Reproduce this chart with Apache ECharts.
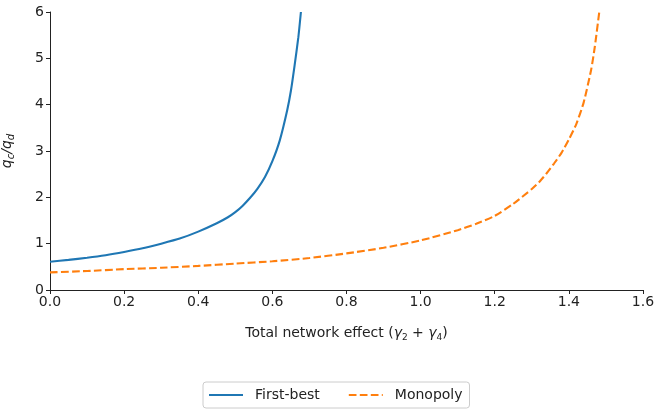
<!DOCTYPE html>
<html>
<head>
<meta charset="utf-8">
<script src="https://cdn.jsdelivr.net/npm/echarts@6/dist/echarts.min.js"></script>
<style>
html,body{margin:0;padding:0;background:#fff;}
#c{width:654px;height:409px;}
</style>
</head>
<body>
<div id="c"></div>
<script>
// Data
var firstBestX = [0, 0.05, 0.1, 0.15, 0.2, 0.25, 0.3, 0.35, 0.4, 0.45, 0.48, 0.5, 0.52, 0.54, 0.56, 0.58, 0.6, 0.62, 0.64, 0.65, 0.66, 0.67, 0.677];
var firstBestY = [0.61, 0.65, 0.695, 0.75, 0.82, 0.90, 1.00, 1.11, 1.26, 1.44, 1.57, 1.68, 1.82, 1.99, 2.19, 2.44, 2.78, 3.23, 3.88, 4.30, 4.85, 5.45, 6.0];
var monopolyX = [0, 0.1, 0.2, 0.3, 0.4, 0.5, 0.6, 0.7, 0.8, 0.9, 1.0, 1.1, 1.15, 1.2, 1.25, 1.3, 1.32, 1.34, 1.36, 1.38, 1.4, 1.42, 1.44, 1.46, 1.47, 1.482];
var monopolyY = [0.38, 0.41, 0.45, 0.48, 0.52, 0.57, 0.62, 0.69, 0.79, 0.91, 1.07, 1.29, 1.43, 1.60, 1.86, 2.18, 2.33, 2.52, 2.73, 2.96, 3.25, 3.58, 4.05, 4.75, 5.25, 6.0];
var xTicks = [0, 0.2, 0.4, 0.6, 0.8, 1.0, 1.2, 1.4, 1.6];
var yTicks = [0, 1, 2, 3, 4, 5, 6];
var seriesNames = ['First-best', 'Monopoly'];

function pairs(xs, ys) { return xs.map(function (x, i) { return [x, ys[i]]; }); }

var FONT = 'DejaVu Sans';
var chart = echarts.init(document.getElementById('c'), null, {renderer: 'canvas'});
var axisCol = '#222';
chart.setOption({
  animation: false,
  backgroundColor: '#fff',
  textStyle: {fontFamily: FONT},
  grid: {left: 50, right: 11, top: 12, bottom: 119, containLabel: false, outerBoundsMode: 'none'},
  xAxis: {
    type: 'value', min: xTicks[0], max: xTicks[xTicks.length - 1], interval: 0.2,
    axisLine: {lineStyle: {color: axisCol, width: 1}},
    axisTick: {show: true, length: 4, lineStyle: {color: axisCol}},
    splitLine: {show: false},
    axisLabel: {color: '#222', fontSize: 14, fontFamily: FONT, margin: 5,
      formatter: function (v) { return v.toFixed(1); }},
    name: '{n|Total network effect (}{i|γ}{s|2}{n| + }{i|γ}{s|4}{n|)}',
    nameLocation: 'middle', nameGap: 34,
    nameTextStyle: {
      rich: {
        n: {fontSize: 14, color: '#222', fontFamily: FONT, lineHeight: 18, verticalAlign: 'middle'},
        i: {fontSize: 14, color: '#222', fontFamily: FONT, fontStyle: 'italic', lineHeight: 18, verticalAlign: 'middle'},
        s: {fontSize: 9, color: '#222', fontFamily: FONT, lineHeight: 17, verticalAlign: 'bottom'}
      }
    }
  },
  yAxis: {
    type: 'value', min: yTicks[0], max: yTicks[yTicks.length - 1], interval: 1,
    axisLine: {show: true, lineStyle: {color: axisCol, width: 1}},
    axisTick: {show: true, length: 4, lineStyle: {color: axisCol}},
    splitLine: {show: false},
    axisLabel: {color: '#222', fontSize: 14, fontFamily: FONT, margin: 6},
    name: '{i|q}{s|c}{i|/q}{s|d}',
    nameLocation: 'middle', nameRotate: 90, nameGap: 34,
    nameTextStyle: {
      rich: {
        i: {fontSize: 14, color: '#222', fontFamily: FONT, fontStyle: 'italic', lineHeight: 18, verticalAlign: 'middle'},
        s: {fontSize: 10, color: '#222', fontFamily: FONT, fontStyle: 'italic', lineHeight: 18, verticalAlign: 'bottom'}
      }
    }
  },
  legend: {
    left: 203, top: 382, orient: 'horizontal',
    padding: [6, 7, 6, 5],
    itemWidth: 34, itemHeight: 14, itemGap: 28,
    borderColor: '#cccccc', borderWidth: 1, borderRadius: 3,
    itemStyle: {opacity: 0},
    textStyle: {fontSize: 14, color: '#222', fontFamily: FONT, padding: [0, 0, 0, 7]},
    data: seriesNames
  },
  series: [
    {
      name: seriesNames[0], type: 'line', data: pairs(firstBestX, firstBestY),
      smooth: 0.2, symbol: 'none', showSymbol: false,
      lineStyle: {color: '#1f77b4', width: 2.1},
      itemStyle: {color: '#1f77b4'}
    },
    {
      name: seriesNames[1], type: 'line', data: pairs(monopolyX, monopolyY),
      smooth: 0.2, symbol: 'none', showSymbol: false,
      lineStyle: {color: '#ff7f0e', width: 2.1, type: [7.7, 3.3]},
      itemStyle: {color: '#ff7f0e'}
    }
  ]
});
</script>
</body>
</html>
